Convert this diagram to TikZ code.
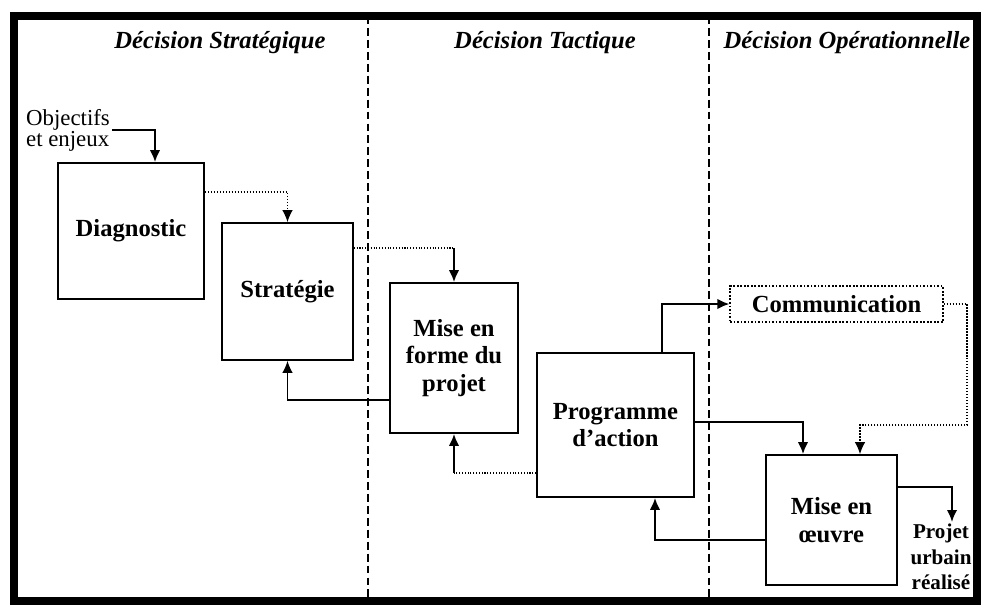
\documentclass[tikz,border=0pt]{standalone}
\usepackage{fontspec}
\setmainfont{Liberation Serif}
\usetikzlibrary{arrows.meta,positioning}

\begin{document}
\begin{tikzpicture}[
  x=0.02cm, y=-0.02cm,
  box/.style={draw,line width=1pt,align=center,inner sep=2pt,font=\fontsize{14}{15.5}\selectfont\bfseries},
  title/.style={font=\fontsize{14}{16}\selectfont\bfseries\itshape},
  note/.style={inner sep=1pt,font=\fontsize{13}{12}\selectfont},
  arrow/.style={-{Latex[length=2.4mm,width=2.1mm]},line width=1.1pt},
  thinarrow/.style={-{Latex[length=2.4mm,width=2.1mm]},line width=0.7pt},
  weak/.style={densely dotted,line width=0.6pt},
  sep/.style={line width=1.1pt,dash pattern=on 4.5pt off 2.3pt}
]
\useasboundingbox (0,0) rectangle (981,609);

% frame and columns
\draw[line width=4.5pt] (14,16) rectangle (977,601);
\draw[sep] (368,16) -- (368,601);
\draw[sep] (709,16) -- (709,601);

\node[title] (strattitle) at (220,43) {Décision Stratégique};
\node[title] (tacttitle) at (545,43) {Décision Tactique};
\node[title] (optitle) at (847,43) {Décision Opérationnelle};

\node[note,align=left,anchor=west] (obj) at (24,130) {Objectifs\\et enjeux};
\node[box,minimum width=2.92cm,minimum height=2.72cm] (diag) at (131,231) {Diagnostic};
\node[box,minimum width=2.62cm,minimum height=2.74cm] (strat) at (287.5,291.5) {Stratégie};
\node[box,minimum width=2.56cm,minimum height=3cm] (forme) at (454,358) {Mise en\\forme du\\projet};
\node[box,minimum width=3.14cm,minimum height=2.88cm] (prog) at (615.5,425) {Programme\\d'action};
\node[box,densely dotted,line width=0.7pt,minimum width=4.26cm,minimum height=0.72cm] (comm) at (836.5,304) {Communication};
\node[box,minimum width=2.62cm,minimum height=2.6cm] (oeuvre) at (831.5,520) {Mise en\\œuvre};
\node[inner sep=1pt,align=center,font=\fontsize{12}{14.5}\selectfont\bfseries] (projet) at (941,557) {Projet\\urbain\\réalisé};

\draw[arrow] (obj.east) -| (155,0 |- diag.north);
\draw[weak,thinarrow] (diag.east |- 0,192) -| (strat.north);
\draw[weak] (strat.east |- 0,248) -- (forme.north |- 0,248) coordinate (k1);
\draw[arrow] (k1) -- (forme.north);
\draw[thinarrow] (forme.west |- 0,400) -| (strat.south);
\draw[weak] (prog.west |- 0,473) -- (forme.south |- 0,473) coordinate (k2);
\draw[arrow] (k2) -- (forme.south);
\draw[arrow] (662,0 |- prog.north) |- (comm.west);
\draw[weak,thinarrow] (comm.east) -| (967,425) -| (860,0 |- oeuvre.north);
\draw[arrow] (prog.east |- 0,422) -| (803,0 |- oeuvre.north);
\draw[arrow] (oeuvre.west |- 0,540) -| (655,0 |- prog.south);
\draw[arrow] (oeuvre.east |- 0,487) -| (952,0 |- projet.north);
\end{tikzpicture}
\end{document}
